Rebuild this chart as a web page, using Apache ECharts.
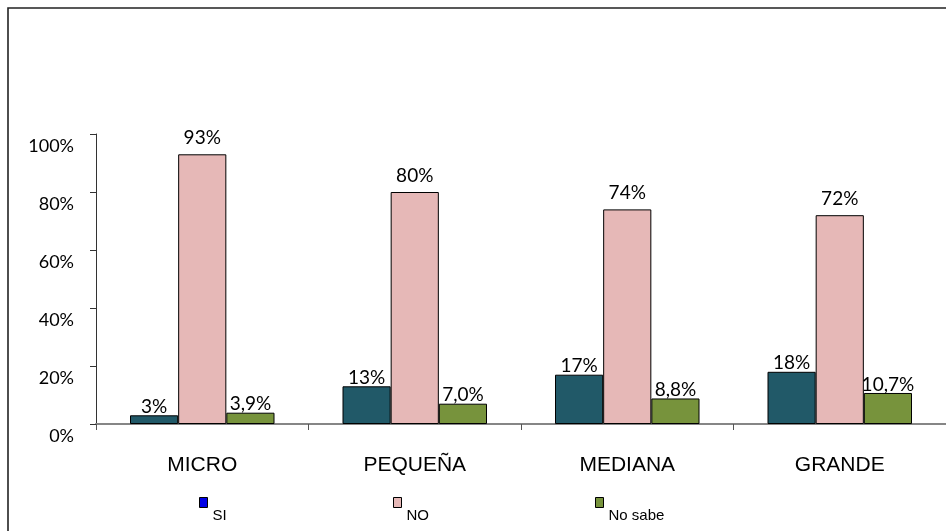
<!DOCTYPE html>
<html>
<head>
<meta charset="utf-8">
<script src="https://cdn.jsdelivr.net/npm/echarts@6/dist/echarts.min.js"></script>
<style>
  html, body { margin: 0; padding: 0; background: #fff; }
  #chart { width: 946px; height: 531px; }
</style>
</head>
<body>
<div id="chart"></div>
<script>
// Company size groups and the share of answers per group (percent)
const categories = ['MICRO', 'PEQUEÑA', 'MEDIANA', 'GRANDE'];
const siValues = [3, 13, 17, 18];
const noValues = [93, 80, 74, 72];
const noSabeValues = [3.9, 7.0, 8.8, 10.7];
const yTicks = [0, 20, 40, 60, 80, 100];

const intPct = p => Math.round(p.value) + '%';
const decPct = p => p.value.toFixed(1).replace('.', ',') + '%';

const labelFont = { fontFamily: 'Lato', fontSize: 19, color: '#000' };

function barSeries(name, data, color, formatter, distance) {
  return {
    name: name,
    type: 'bar',
    data: data,
    barGap: '0%',
    barCategoryGap: '32%',
    itemStyle: { color: color, borderColor: '#000', borderWidth: 1 },
    label: Object.assign({ show: true, position: 'top', distance: distance, formatter: formatter }, labelFont)
  };
}

// One legend per series so each entry sits at its own spot; the name
// hangs below the small square swatch.
function legendFor(name, left, iconColor) {
  return {
    left: left,
    top: 497,
    padding: 0,
    icon: 'rect',
    itemWidth: 8,
    itemHeight: 10,
    itemGap: 0,
    data: [{ name: name, itemStyle: { color: iconColor, borderColor: '#000', borderWidth: 1 } }],
    formatter: '{t|{name}}',
    textStyle: {
      color: '#000',
      rich: {
        t: {
          fontFamily: "'Liberation Sans Narrow', 'Liberation Sans', Arial, sans-serif",
          fontSize: 15,
          color: '#000',
          padding: [26, 0, 0, 0]
        }
      }
    }
  };
}

const chart = echarts.init(document.getElementById('chart'), null, { renderer: 'canvas' });
chart.setOption({
  animation: false,
  backgroundColor: '#fff',
  graphic: [{
    type: 'rect',
    shape: { x: 8, y: 8, width: 1000, height: 600 },
    style: { fill: 'none', stroke: '#222', lineWidth: 1.6 },
    silent: true
  }],
  grid: { left: 96, right: 0, top: 134, bottom: 107, containLabel: false },
  legend: [
    legendFor('SI', 199, '#0000e6'),
    legendFor('NO', 393, '#e6b8b7'),
    legendFor('No sabe', 595, '#77933c')
  ],
  xAxis: {
    type: 'category',
    data: categories,
    axisLine: { lineStyle: { color: '#868686', width: 2 } },
    axisTick: { show: true, length: 6, lineStyle: { color: '#555', width: 1 } },
    axisLabel: {
      margin: 31,
      fontFamily: "'Liberation Sans', Arial, sans-serif",
      fontSize: 21,
      color: '#000'
    }
  },
  yAxis: {
    type: 'value',
    min: yTicks[0],
    max: yTicks[yTicks.length - 1],
    interval: yTicks[1] - yTicks[0],
    axisLine: { show: true, lineStyle: { color: '#333', width: 1 } },
    axisTick: { show: true, length: 6, lineStyle: { color: '#333' } },
    splitLine: { show: false },
    axisLabel: {
      margin: 22,
      verticalAlign: 'top',
      padding: [3, 0, 0, 0],
      formatter: '{value}%',
      fontFamily: 'Lato',
      fontSize: 18,
      color: '#000'
    }
  },
  series: [
    barSeries('SI', siValues, '#215968', intPct, -1),
    barSeries('NO', noValues, '#e6b8b7', intPct, 7),
    barSeries('No sabe', noSabeValues, '#77933c', decPct, -1)
  ]
});
</script>
</body>
</html>
